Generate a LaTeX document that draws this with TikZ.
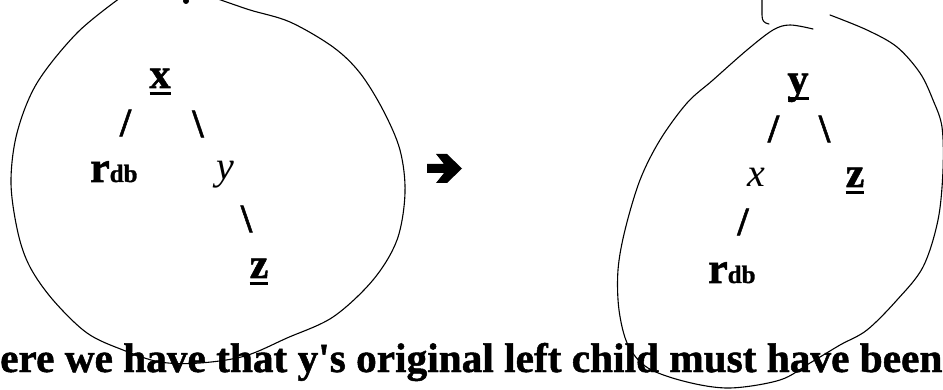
\documentclass[tikz,border=0pt]{standalone}
\usepackage{fontspec}
\usepackage{xcolor}
\newfontfamily\scanfont{Liberation Serif}[BoldFeatures={FakeBold=1.2}]
\definecolor{ScanInk}{HTML}{000000}
\newcommand{\ulbar}[1]{\setbox0=\hbox{#1}\rlap{\rule[-0.16em]{\wd0}{0.07em}}\box0}
\tikzset{
  lbl/.style={anchor=base,inner sep=0pt,text=ScanInk,font=\scanfont\bfseries\fontsize{40}{40}\selectfont},
  bflbl/.style={lbl,font=\scanfont\bfseries\fontsize{42}{42}\selectfont},
  itlbl/.style={lbl,font=\scanfont\itshape\fontsize{40}{40}\selectfont},
  ring/.style={ScanInk,line width=1.1pt,line cap=round,line join=round},
}
\newcommand{\rdb}{{\bfseries\fontsize{44}{44}\selectfont r}{\bfseries\fontsize{25}{25}\selectfont db}}

\begin{document}
\begin{tikzpicture}[x=1pt,y=-1pt]
\path[use as bounding box] (0,0) rectangle (943,390);
\fill[white] (0,0) rectangle (943,390);
\clip (0,0) rectangle (943,390);
% before: ring round x
\draw[ring] plot[smooth,tension=0.55] coordinates {(120,-2) (77,33) (37,83) (17,133) (11,183) (18,233) (30,267) (53,300) (87,333) (123,350) (160,362) (200,363) (245,356) (287,338) (333,317) (373,280) (397,240) (405,193) (400,150) (383,110) (360,73) (333,47) (290,22) (250,10) (218,-1)};
\fill[ScanInk] (186,1) circle (3);
% after: ring round y
\draw[ring] plot[smooth,tension=0.55] coordinates {(813,29) (790,25) (773,30) (747,50) (713,80) (687,103) (660,140) (640,180) (625,230) (618,270) (619,310) (628,345) (648,368) (687,382) (730,388) (780,380) (810,363) (840,345) (867,330) (897,300) (923,267) (938,220) (943,170) (942,127) (933,100) (920,73) (897,47) (867,30) (830,15)};
\draw[ring] (762,-2) -- (762,15) .. controls (762,21) and (764,23) .. (769,24);
% rotation arrow
\fill[ScanInk] (427,164) -- (444,164) -- (436,154) -- (447,154) -- (462,168.5) -- (447,183) -- (436,183) -- (444,173) -- (427,173) -- cycle;
% left tree
\node[bflbl] (xL) at (160,88) {\ulbar{x}};
\node[lbl] (xLl) at (125.5,136) {/};
\node[lbl] (xLr) at (198,137) {\textbackslash};
\node[lbl,anchor=base west] (rL) at (90,182) {\rdb};
\node[itlbl] (yL) at (225,180) {y};
\node[lbl] (yLr) at (246.5,232) {\textbackslash};
\node[bflbl] (zL) at (259,278) {\ulbar{z}};
% right tree
\node[bflbl] (yR) at (798,93) {\ulbar{y}};
\node[lbl] (yRl) at (773.5,142) {/};
\node[lbl] (yRr) at (824.5,142) {\textbackslash};
\node[itlbl] (xR) at (756,187) {x};
\node[bflbl] (zR) at (855,187) {\ulbar{z}};
\node[lbl] (xRl) at (743,235) {/};
\node[lbl,anchor=base west] (rR) at (708,283) {\rdb};
% caption line
\node[lbl,anchor=base west,font=\scanfont\bfseries\fontsize{41.3}{41.3}\selectfont] (caption) at (0,372) {ere we have that y's original left child must have been};
\end{tikzpicture}
\end{document}
